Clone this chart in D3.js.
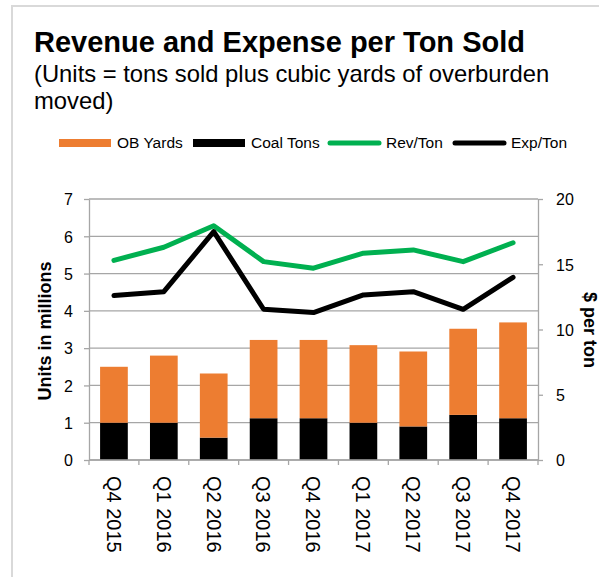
<!DOCTYPE html>
<html>
<head>
<meta charset="utf-8">
<script src="https://cdn.jsdelivr.net/npm/d3@7"></script>
<style>
  html, body { margin: 0; padding: 0; background: #fff; }
  svg { display: block; font-family: "Liberation Sans", Arial, sans-serif; }
</style>
</head>
<body>
<svg id="chart" width="599" height="577"></svg>
<script>
// Quarterly data
const quarters = ["Q4 2015", "Q1 2016", "Q2 2016", "Q3 2016", "Q4 2016", "Q1 2017", "Q2 2017", "Q3 2017", "Q4 2017"];
const coalTons = [1.0, 1.0, 0.6, 1.12, 1.12, 1.0, 0.9, 1.21, 1.12];      // millions
const obYards  = [1.5, 1.8, 1.72, 2.1, 2.1, 2.08, 2.01, 2.31, 2.57];     // millions
const revPerTon = [15.3, 16.3, 17.95, 15.2, 14.7, 15.85, 16.1, 15.2, 16.65]; // $ per ton
const expPerTon = [12.6, 12.9, 17.5, 11.55, 11.3, 12.65, 12.9, 11.55, 14.0];  // $ per ton
const leftTicks = [0, 1, 2, 3, 4, 5, 6, 7];
const rightTicks = [0, 5, 10, 15, 20];

const colors = { ob: "#ED7D31", coal: "#000000", rev: "#00B050", exp: "#000000", grid: "#a6a6a6", text: "#000" };
const FONT = "Liberation Sans, Arial, sans-serif";

const svg = d3.select("#chart");

// Outer frame
svg.append("rect")
  .attr("x", 12).attr("y", 6).attr("width", 620).attr("height", 600)
  .attr("fill", "none").attr("stroke", "#d9d9d9").attr("stroke-width", 2);

// Title block
svg.append("text").attr("x", 34).attr("y", 52)
  .attr("font-size", 29).attr("font-weight", "bold").attr("fill", colors.text)
  .text("Revenue and Expense per Ton Sold");
svg.append("text").attr("x", 34).attr("y", 82)
  .attr("font-size", 23.8).attr("fill", colors.text)
  .text("(Units = tons sold plus cubic yards of overburden");
svg.append("text").attr("x", 34).attr("y", 109)
  .attr("font-size", 23.8).attr("fill", colors.text)
  .text("moved)");

// Plot area
const plot = { left: 89, right: 538, top: 199, bottom: 460 };

const x = d3.scaleBand().domain(quarters)
  .range([plot.left, plot.right])
  .paddingInner(0.8 / 1.8).paddingOuter(0.4 / 1.8);
const yL = d3.scaleLinear().domain([0, 7]).range([plot.bottom, plot.top]);
const yR = d3.scaleLinear().domain([0, 20]).range([plot.bottom, plot.top]);

// Gridlines on the left scale
svg.append("g").selectAll("line").data(leftTicks).join("line")
  .attr("x1", plot.left).attr("x2", plot.right)
  .attr("y1", d => yL(d)).attr("y2", d => yL(d))
  .attr("stroke", colors.grid).attr("stroke-width", 1.3);

// Stacked bars: coal tons at the base, overburden yards on top
const bars = svg.append("g");
bars.selectAll("rect.coal").data(quarters).join("rect").attr("class", "coal")
  .attr("x", d => x(d)).attr("width", x.bandwidth())
  .attr("y", (d, i) => yL(coalTons[i]))
  .attr("height", (d, i) => yL(0) - yL(coalTons[i]))
  .attr("fill", colors.coal);
bars.selectAll("rect.ob").data(quarters).join("rect").attr("class", "ob")
  .attr("x", d => x(d)).attr("width", x.bandwidth())
  .attr("y", (d, i) => yL(coalTons[i] + obYards[i]))
  .attr("height", (d, i) => yL(coalTons[i]) - yL(coalTons[i] + obYards[i]))
  .attr("fill", colors.ob);

// Axis styling shared by both value axes
const axisStyle = g => {
  g.select(".domain").attr("stroke", colors.grid).attr("stroke-width", 1.3);
  g.selectAll(".tick line").attr("stroke", colors.grid).attr("stroke-width", 1.3);
  g.selectAll(".tick text").attr("fill", colors.text)
    .attr("font-size", 16).attr("font-family", FONT).attr("dy", "0.36em");
};

// Left axis
svg.append("g").attr("transform", `translate(${plot.left},0)`)
  .call(d3.axisLeft(yL).tickValues(leftTicks).tickFormat(d3.format("d"))
    .tickSize(5).tickPadding(11).tickSizeOuter(0))
  .call(axisStyle);

// Right axis
svg.append("g").attr("transform", `translate(${plot.right},0)`)
  .call(d3.axisRight(yR).tickValues(rightTicks).tickFormat(d3.format("d"))
    .tickSize(5).tickPadding(13).tickSizeOuter(0))
  .call(axisStyle);

// Category axis: ticks between categories
const bounds = d3.range(quarters.length + 1).map(i => plot.left + i * x.step());
const xg = svg.append("g");
xg.append("line").attr("x1", plot.left).attr("x2", plot.right)
  .attr("y1", plot.bottom).attr("y2", plot.bottom)
  .attr("stroke", colors.grid).attr("stroke-width", 1.3);
xg.selectAll("line.tk").data(bounds).join("line").attr("class", "tk")
  .attr("x1", d => d).attr("x2", d => d)
  .attr("y1", plot.bottom).attr("y2", plot.bottom + 5)
  .attr("stroke", colors.grid).attr("stroke-width", 1.3);
xg.selectAll("text").data(quarters).join("text")
  .attr("transform", d => `translate(${x(d) + x.bandwidth() / 2},476) rotate(90)`)
  .attr("dy", "0.36em")
  .attr("font-size", 20).attr("fill", colors.text)
  .text(d => d);

// Per-ton lines on the right scale
const line = d3.line()
  .x((d, i) => x(quarters[i]) + x.bandwidth() / 2)
  .y(d => yR(d));
svg.append("path").datum(revPerTon).attr("d", line)
  .attr("fill", "none").attr("stroke", colors.rev).attr("stroke-width", 5)
  .attr("stroke-linejoin", "round").attr("stroke-linecap", "round");
svg.append("path").datum(expPerTon).attr("d", line)
  .attr("fill", "none").attr("stroke", colors.exp).attr("stroke-width", 5)
  .attr("stroke-linejoin", "round").attr("stroke-linecap", "round");

// Axis titles
svg.append("text")
  .attr("transform", "translate(45,331) rotate(-90)")
  .attr("text-anchor", "middle").attr("dy", "0.36em")
  .attr("font-size", 18).attr("font-weight", "bold").attr("fill", colors.text)
  .text("Units in millions");
svg.append("text")
  .attr("transform", "translate(590,330) rotate(90)")
  .attr("text-anchor", "middle").attr("dy", "0.36em")
  .attr("font-size", 18).attr("font-weight", "bold").attr("fill", colors.text)
  .text("$ per ton");

// Legend
const legendItems = [
  { label: "OB Yards", color: colors.ob, kind: "bar", x: 59 },
  { label: "Coal Tons", color: colors.coal, kind: "bar", x: 193 },
  { label: "Rev/Ton", color: colors.rev, kind: "line", x: 328 },
  { label: "Exp/Ton", color: colors.exp, kind: "line", x: 453 }
];
const lg = svg.append("g");
legendItems.forEach(it => {
  if (it.kind === "bar") {
    lg.append("rect").attr("x", it.x).attr("y", 139).attr("width", 52).attr("height", 8).attr("fill", it.color);
  } else {
    lg.append("line").attr("x1", it.x + 2).attr("x2", it.x + 51).attr("y1", 143).attr("y2", 143)
      .attr("stroke", it.color).attr("stroke-width", 5).attr("stroke-linecap", "round");
  }
  lg.append("text").attr("x", it.x + 58).attr("y", 148)
    .attr("font-size", 15.5).attr("fill", colors.text).text(it.label);
});
</script>
</body>
</html>
